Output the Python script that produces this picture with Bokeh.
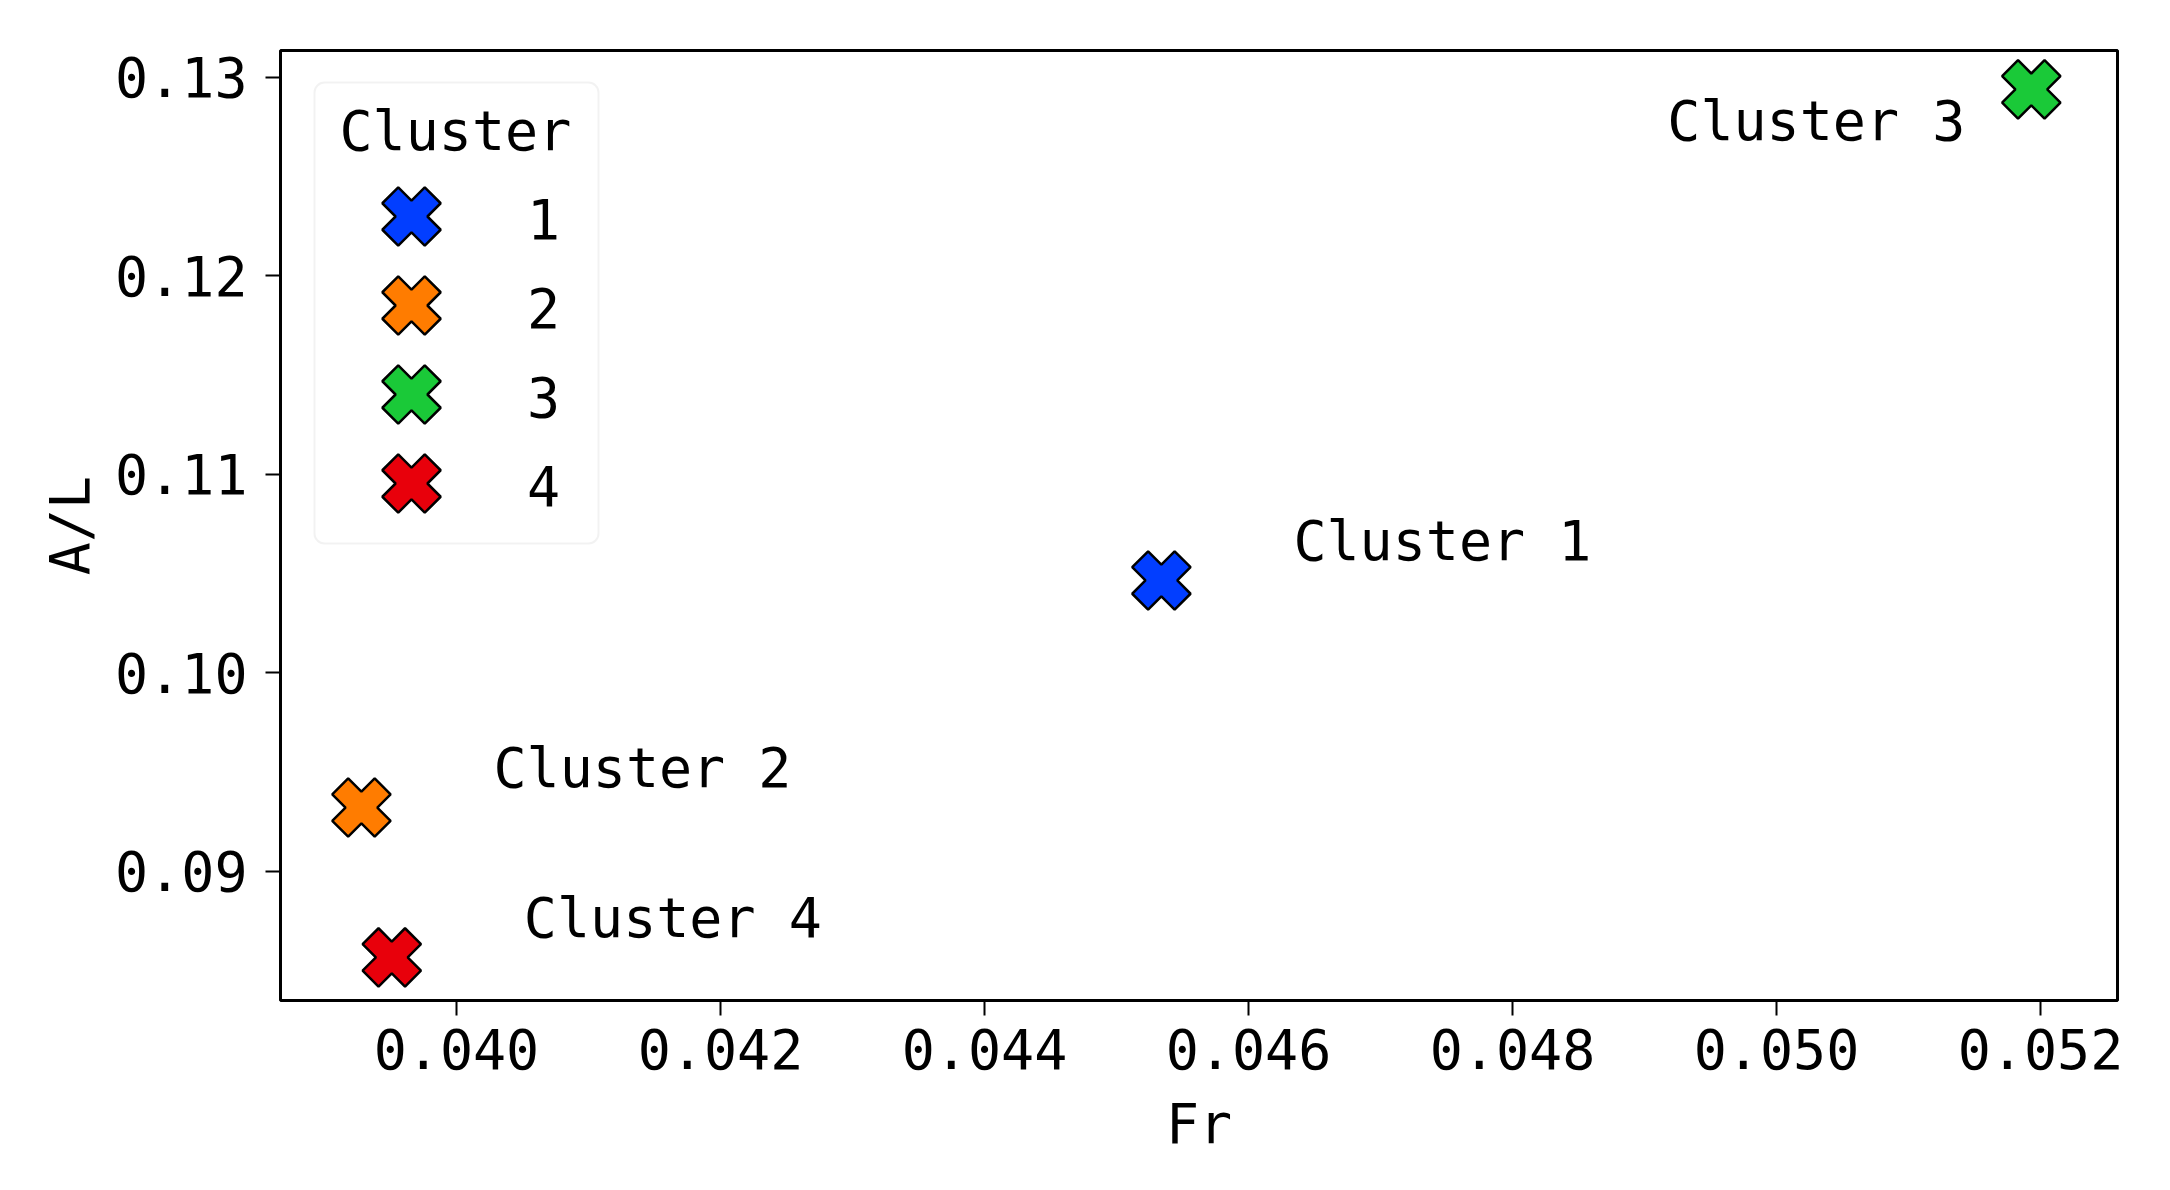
from bokeh.plotting import figure
from bokeh.models import (Range1d, FixedTicker, NumeralTickFormatter, BoxAnnotation,
                          ColumnDataSource)
from bokeh.core.properties import value
from bokeh.embed import file_html
from bokeh.resources import INLINE

# ---- data ----
clusters = ["1", "2", "3", "4"]
fr = [0.04534, 0.03928, 0.05193, 0.03951]
al = [0.10466, 0.09322, 0.12940, 0.08567]
colors = ["#023eff", "#ff7c00", "#1ac938", "#e8000b"]
annot_text = ["Cluster 1", "Cluster 2", "Cluster 3", "Cluster 4"]
x_ticks = [0.040, 0.042, 0.044, 0.046, 0.048, 0.050, 0.052]
y_ticks = [0.09, 0.10, 0.11, 0.12, 0.13]
legend_title = "Cluster"

# annotation offsets (data units) and alignment
annot_dx = [0.001, 0.001, -0.0005, 0.001]
annot_dy = [0.002, 0.002, -0.0016, 0.002]
annot_align = ["left", "left", "right", "left"]

FONT = "DejaVu Sans Mono"
FS = "55px"

# frame placement (pixels)
W, H = 2162, 1182
FL, FR_, FT, FB = 280, 2117, 50, 1000

p = figure(width=W, height=H, output_backend="svg", toolbar_location=None,
           x_range=Range1d(0.038667, 0.052583), y_range=Range1d(0.08350, 0.13136),
           min_border_left=FL, min_border_right=W - FR_, min_border_top=FT,
           min_border_bottom=H - FB)
# pixel coordinate system for the legend layout
p.extra_x_ranges = {"px": Range1d(FL, FR_)}
p.extra_y_ranges = {"px": Range1d(FB, FT)}

p.grid.visible = False
p.outline_line_color = "black"
p.outline_line_width = 3
p.background_fill_color = "white"
p.border_fill_color = "white"

for ax in (p.xaxis[0], p.yaxis[0]):
    ax.axis_line_color = None
    ax.major_tick_in = 0
    ax.major_tick_out = 15
    ax.major_tick_line_width = 2
    ax.major_tick_line_color = "black"
    ax.minor_tick_line_color = None
    ax.major_label_text_font = FONT
    ax.major_label_text_font_size = FS
    ax.major_label_text_color = "black"
    ax.axis_label_text_font = FONT
    ax.axis_label_text_font_size = FS
    ax.axis_label_text_font_style = "normal"
    ax.axis_label_text_color = "black"

p.xaxis.ticker = FixedTicker(ticks=x_ticks)
p.yaxis.ticker = FixedTicker(ticks=y_ticks)
p.xaxis.formatter = NumeralTickFormatter(format="0.000")
p.yaxis.formatter = NumeralTickFormatter(format="0.00")
p.xaxis.axis_label = "Fr"
p.yaxis.axis_label = "A/L"
p.xaxis.major_label_standoff = 13
p.xaxis.axis_label_standoff = 20
p.yaxis.major_label_standoff = 18
p.yaxis.axis_label_standoff = 10

# ---- data markers ----
src = ColumnDataSource(dict(x=fr, y=al, c=colors, k=clusters))
p.scatter(x="x", y="y", source=src, marker="plus", size=60, angle=45, angle_units="deg",
          fill_color="c", line_color="black", line_width=2.5)

tsrc = ColumnDataSource(dict(
    x=[fr[i] + annot_dx[i] for i in range(len(fr))],
    y=[al[i] + annot_dy[i] for i in range(len(al))],
    t=annot_text, a=annot_align))
p.text(x="x", y="y", text="t", text_align="a", text_baseline="middle", source=tsrc,
       text_font=value(FONT), text_font_size=FS, text_color="black")

# ---- legend (laid out in pixel space) ----
LX0, LX1, LY0, LY1 = 314, 598, 82, 543
box = BoxAnnotation(left=LX0, right=LX1, top=LY0, bottom=LY1,
                    x_range_name="px", y_range_name="px", level="underlay",
                    fill_color="white", fill_alpha=0.8,
                    line_color="#d4d4d4", line_width=2, border_radius=10)
p.add_layout(box)

p.text(x=[339], y=[130], text=[legend_title], x_range_name="px", y_range_name="px",
       text_align="left", text_baseline="middle",
       text_font=value(FONT), text_font_size=FS, text_color="black")

item_y0, item_pitch = 216, 89
leg_y = [item_y0 + i * item_pitch for i in range(len(clusters))]
lsrc = ColumnDataSource(dict(x=[411] * len(clusters), y=leg_y, c=colors,
                             lx=[543] * len(clusters), ly=[v + 2 for v in leg_y], k=clusters))
p.scatter(x="x", y="y", source=lsrc, x_range_name="px", y_range_name="px",
          marker="plus", size=60, angle=45, angle_units="deg",
          fill_color="c", line_color="black", line_width=2.5)
p.text(x="lx", y="ly", text="k", source=lsrc, x_range_name="px", y_range_name="px",
       text_align="center", text_baseline="middle",
       text_font=value(FONT), text_font_size=FS, text_color="black")

open("out.html", "w").write(file_html(p, INLINE))
